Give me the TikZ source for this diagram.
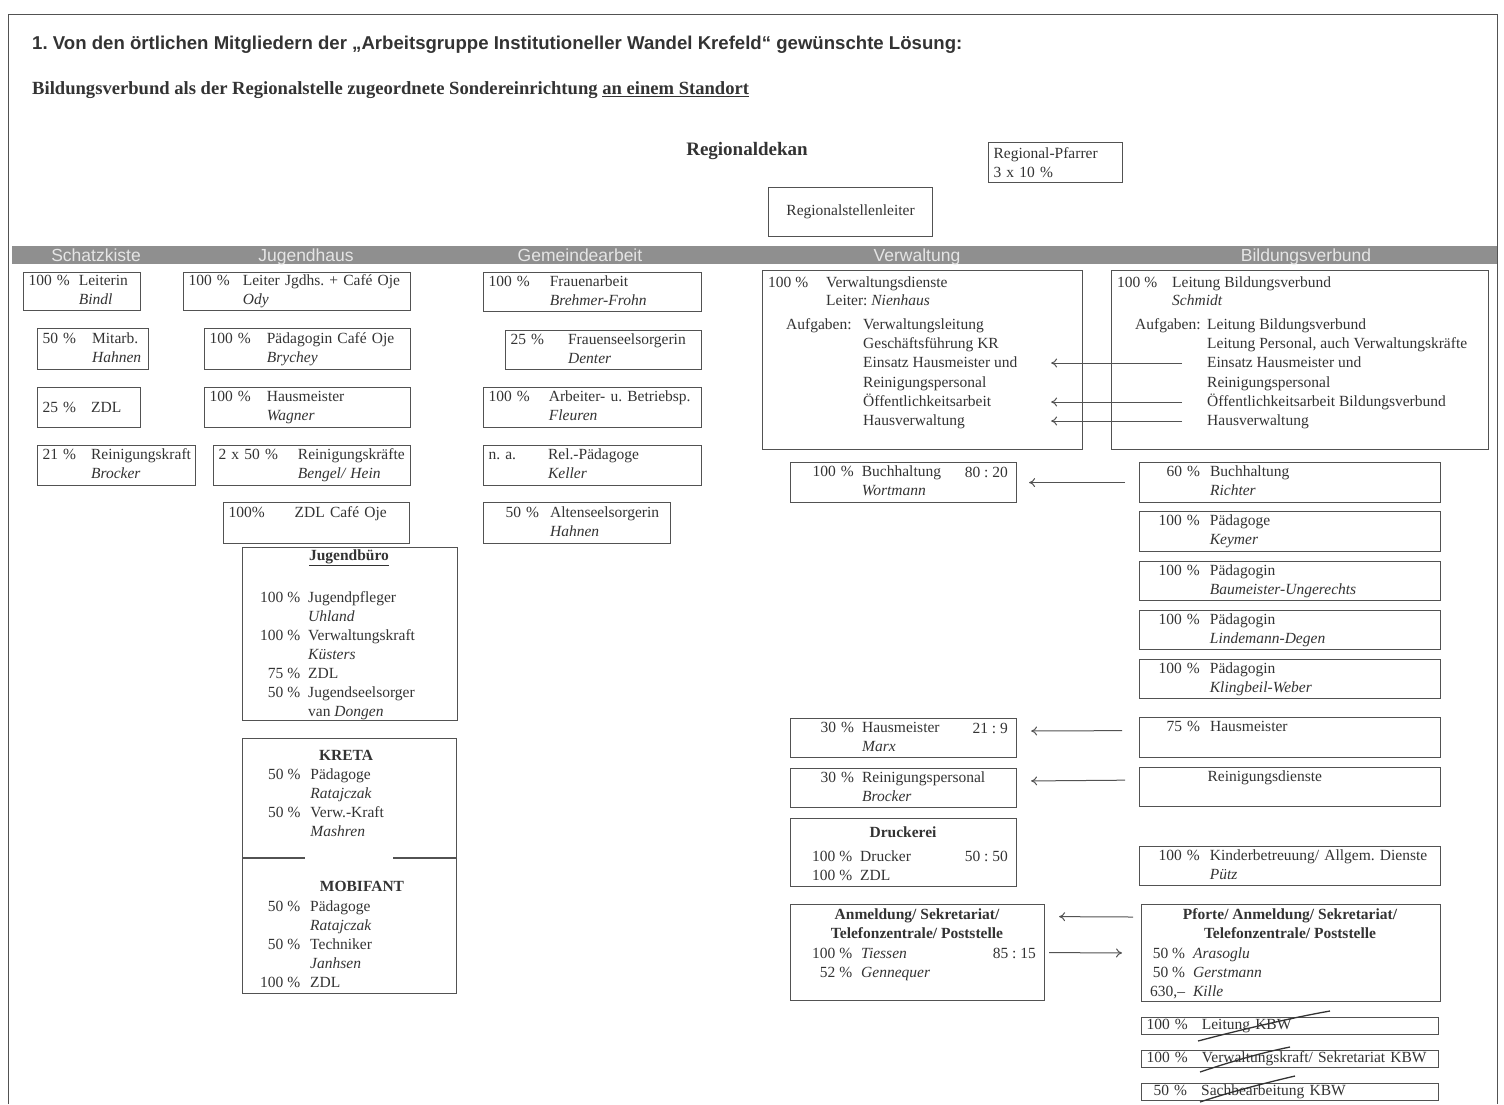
\documentclass[tikz,border=0pt]{standalone}
\usepackage{fontspec}
\setmainfont{Liberation Serif}
\setsansfont{Liberation Sans}
\usetikzlibrary{arrows.meta}
\frenchspacing

\definecolor{tinte}{gray}{0.2}
\definecolor{linie}{gray}{0.32}
\definecolor{balkengrau}{gray}{0.56}
\definecolor{reitertext}{gray}{0.9}

\newcommand{\schrift}{\fontsize{15.5}{19}\selectfont}
\newcommand{\titelschrift}{\sffamily\bfseries\fontsize{18.6}{22}\selectfont}
\newcommand{\zweitschrift}{\bfseries\fontsize{18.6}{22}\selectfont}
\newcommand{\reiterschrift}{\sffamily\fontsize{17.5}{18}\selectfont}
% Prozent | Aufgabe / Name
\newcommand{\posten}[4][16pt]{\begin{tabular}[t]{@{}r@{\hspace{#1}}l@{}}#2 & #3\\ & \textit{#4}\end{tabular}}

\begin{document}
\begin{tikzpicture}[x=1pt, y=-1pt, color=tinte, >={To[length=6pt, width=9pt]},
    stelle/.style={draw=linie, line width=1.1pt, rectangle, anchor=north west, inner xsep=5pt, inner ysep=0pt, align=left, font=\schrift},
    rahmen/.style={draw=linie, line width=1.1pt, rectangle, anchor=north west, inner sep=0pt, font=\schrift},
    zeile/.style={anchor=base west, inner sep=0pt, text height=11pt, text depth=3pt, font=\schrift},
    block/.style={anchor=base west, inner sep=0pt, font=\schrift},
    kopf/.style={inner sep=0pt, align=center, font=\schrift\bfseries},
    reiter/.style={anchor=base, inner sep=0pt, text=reitertext, font=\reiterschrift},
    pfeil/.style={->, draw=linie, line width=1pt}]
  \useasboundingbox (0,0) rectangle (1504,1104);
  \draw[linie, line width=1pt] (8,1104) -- (8,14) -- (1497,14) -- (1497,1104);

  % Kopf
  \node[anchor=west, inner sep=0pt, font=\titelschrift] (titel) at (32,45)
    {1. Von den örtlichen Mitgliedern der „Arbeitsgruppe Institutioneller Wandel Krefeld“ gewünschte Lösung:};
  \node[anchor=west, inner sep=0pt, font=\zweitschrift] (untertitel) at (32,90)
    {Bildungsverbund als der Regionalstelle zugeordnete Sondereinrichtung \underline{an einem Standort}};
  \node[inner sep=0pt, font=\bfseries\fontsize{19}{21}\selectfont] (dekan) at (747,151) {Regionaldekan};
  \node[stelle, text width=124pt, minimum height=40pt] (pfarrer) at (988,142) {Regional-Pfarrer\\3 x 10 \%};
  \node[rahmen, minimum width=164pt, minimum height=49pt] (leiter) at (768,187) {Regionalstellenleiter};

  % Balken
  \fill[balkengrau] (12,246) rectangle (1497,264);
  \node[reiter] (rSchatz) at (96,261) {Schatzkiste};
  \node[reiter] (rJugend) at (306,261) {Jugendhaus};
  \node[reiter] (rGemeinde) at (580,261) {Gemeindearbeit};
  \node[reiter] (rVerw) at (917,261) {Verwaltung};
  \node[reiter] (rBild) at (1306,261) {Bildungsverbund};

  % Schatzkiste
  \node[stelle, text width=107pt, minimum height=38pt] (schatzA) at (23,272) {\posten[9pt]{100 \%}{Leiterin}{Bindl}};
  \node[stelle, text width=101pt, minimum height=41pt] (schatzB) at (37,328) {\posten{50 \%}{Mitarb.}{Hahnen}};
  \node[stelle, text width=93pt, minimum height=40pt] (schatzC) at (37,387) {25 \%\hspace{15pt}ZDL};
  \node[stelle, text width=148pt, minimum height=40pt] (schatzD) at (37,445) {\posten[15pt]{21 \%}{Reinigungskraft}{Brocker}};

  % Jugendhaus
  \node[stelle, text width=217pt, minimum height=38pt] (jugendA) at (183,272) {\posten[13pt]{100 \%}{Leiter Jgdhs. + Café Oje}{Ody}};
  \node[stelle, text width=196pt, minimum height=41pt] (jugendB) at (204,328) {\posten{100 \%}{Pädagogin Café Oje}{Brychey}};
  \node[stelle, text width=196pt, minimum height=40pt] (jugendC) at (204,387) {\posten{100 \%}{Hausmeister}{Wagner}};
  \node[stelle, text width=187pt, minimum height=40pt] (jugendD) at (213,445) {\posten[20pt]{2 x 50 \%}{Reinigungskräfte}{Bengel/ Hein}};
  \node[stelle, text width=176pt, minimum height=41pt] (jugendE) at (223,502) {\posten[30pt]{100\%}{ZDL Café Oje}{}};

  \node[rahmen, minimum width=215pt, minimum height=173pt] (jbuero) at (242,547) {};
  \node[kopf] (jbueroKopf) at (349,558) {\underline{Jugendbüro}};
  \node[block] (jbueroText) at (260,602) {\begin{tabular}[t]{@{}r@{\hspace{8pt}}l@{}}
    100 \% & Jugendpfleger\\ & \textit{Uhland}\\ 100 \% & Verwaltungskraft\\ & \textit{Küsters}\\
    75 \% & ZDL\\ 50 \% & Jugendseelsorger\\ & van \textit{Dongen}\end{tabular}};

  \node[rahmen, minimum width=214pt, minimum height=255pt] (kreta) at (242,738) {};
  \draw[linie, line width=1.1pt] (kreta.west |- 0,858) -- ++(63,0) (kreta.east |- 0,858) -- ++(-64,0);
  \node[kopf] (kretaKopf) at (346,755) {KRETA};
  \node[block] (kretaText) at (268,779) {\begin{tabular}[t]{@{}r@{\hspace{10pt}}l@{}}
    50 \% & Pädagoge\\ & \textit{Ratajczak}\\ 50 \% & Verw.-Kraft\\ & \textit{Mashren}\end{tabular}};
  \node[kopf] (mobiKopf) at (362,886) {MOBIFANT};
  \node[block] (mobiText) at (260,911) {\begin{tabular}[t]{@{}r@{\hspace{10pt}}l@{}}
    50 \% & Pädagoge\\ & \textit{Ratajczak}\\ 50 \% & Techniker\\ & \textit{Janhsen}\\ 100 \% & ZDL\end{tabular}};

  % Gemeindearbeit
  \node[stelle, text width=208pt, minimum height=39pt] (gemA) at (483,272) {\posten[20pt]{100 \%}{Frauenarbeit}{Brehmer-Frohn}};
  \node[stelle, text width=186pt, minimum height=39pt] (gemB) at (505,330) {\posten[24pt]{25 \%}{Frauenseelsorgerin}{Denter}};
  \node[stelle, text width=208pt, minimum height=40pt] (gemC) at (483,387) {\posten[19pt]{100 \%}{Arbeiter- u. Betriebsp.}{Fleuren}};
  \node[stelle, text width=208pt, minimum height=40pt] (gemD) at (483,445) {\posten[32pt]{n. a.}{Rel.-Pädagoge}{Keller}};
  \node[stelle, text width=177pt, minimum height=41pt] (gemE) at (483,502) {\hspace*{17pt}\posten[11pt]{50 \%}{Altenseelsorgerin}{Hahnen}};

  % Verwaltung
  \node[rahmen, minimum width=320pt, minimum height=179pt] (verw) at (762,270) {};
  \node[zeile] (vProz) at (768,287) {100 \%};
  \node[zeile] (vDienst) at (826,287) {Verwaltungsdienste};
  \node[zeile] (vLeiter) at (826,305) {Leiter: \textit{Nienhaus}};
  \node[zeile] (vAufg) at (786,329) {Aufgaben:};
  \node[zeile] (vLeitung) at (863,329) {Verwaltungsleitung};
  \node[zeile] (vGf) at (863,348) {Geschäftsführung KR};
  \node[zeile] (vEinsatz) at (863,367) {Einsatz Hausmeister und};
  \node[zeile] (vReinig) at (863,387) {Reinigungspersonal};
  \node[zeile] (vOeff) at (863,406) {Öffentlichkeitsarbeit};
  \node[zeile] (vHausv) at (863,425) {Hausverwaltung};

  \node[stelle, text width=216pt, minimum height=40pt] (vBuch) at (790,462) {\hspace*{17pt}\posten[8pt]{100 \%}{Buchhaltung}{Wortmann}};
  \node[block, anchor=base east] (vBuchQ) at (1008,477) {80 : 20};
  \node[stelle, text width=216pt, minimum height=39pt] (vHaus) at (790,718) {\hspace*{25pt}\posten[8pt]{30 \%}{Hausmeister}{Marx}};
  \node[block, anchor=base east] (vHausQ) at (1008,733) {21 : 9};
  \node[stelle, text width=216pt, minimum height=39pt] (vRein) at (790,768) {\hspace*{25pt}\posten[8pt]{30 \%}{Reinigungspersonal}{Brocker}};
  \node[rahmen, minimum width=226pt, minimum height=68pt] (vDruck) at (790,818) {};
  \node[kopf] (druckKopf) at (903,832) {Druckerei};
  \node[block] (druckText) at (812,861) {\begin{tabular}[t]{@{}l@{\hspace{8pt}}l@{}}100 \% & Drucker\\ 100 \% & ZDL\end{tabular}};
  \node[block, anchor=base east] (druckQ) at (1008,861) {50 : 50};
  \node[rahmen, minimum width=254pt, minimum height=96pt] (vAnm) at (790,904) {};
  \node[kopf] (anmKopfV) at (917,924) {Anmeldung/ Sekretariat/\\Telefonzentrale/ Poststelle};
  \node[block] (anmTextV) at (812,958) {\begin{tabular}[t]{@{}r@{\hspace{9pt}}l@{}}100 \% & \textit{Tiessen}\\ 52 \% & \textit{Gennequer}\end{tabular}};
  \node[block, anchor=base east] (anmQ) at (1036,958) {85 : 15};

  % Bildungsverbund
  \node[rahmen, minimum width=377pt, minimum height=179pt] (bild) at (1111,270) {};
  \node[zeile] (bProz) at (1117,287) {100 \%};
  \node[zeile] (bLeitung) at (1172,287) {Leitung Bildungsverbund};
  \node[zeile] (bName) at (1172,305) {\textit{Schmidt}};
  \node[zeile] (bAufg) at (1135,329) {Aufgaben:};
  \node[zeile] (bLeitA) at (1207,329) {Leitung Bildungsverbund};
  \node[zeile] (bLeitB) at (1207,348) {Leitung Personal, auch Verwaltungskräfte};
  \node[zeile] (bEinsatz) at (1207,367) {Einsatz Hausmeister und};
  \node[zeile] (bReinig) at (1207,387) {Reinigungspersonal};
  \node[zeile] (bOeff) at (1207,406) {Öffentlichkeitsarbeit Bildungsverbund};
  \node[zeile] (bHausv) at (1207,425) {Hausverwaltung};

  \node[stelle, text width=291pt, minimum height=40pt] (bBuch) at (1139,462) {\hspace*{22pt}\posten[10pt]{60 \%}{Buchhaltung}{Richter}};
  \node[stelle, text width=291pt, minimum height=40pt] (bKeymer) at (1139,511) {\hspace*{14pt}\posten[10pt]{100 \%}{Pädagoge}{Keymer}};
  \node[stelle, text width=291pt, minimum height=39pt] (bBaum) at (1139,561) {\hspace*{14pt}\posten[10pt]{100 \%}{Pädagogin}{Baumeister-Ungerechts}};
  \node[stelle, text width=291pt, minimum height=39pt] (bLinde) at (1139,610) {\hspace*{14pt}\posten[10pt]{100 \%}{Pädagogin}{Lindemann-Degen}};
  \node[stelle, text width=291pt, minimum height=39pt] (bKling) at (1139,659) {\hspace*{14pt}\posten[10pt]{100 \%}{Pädagogin}{Klingbeil-Weber}};
  \node[stelle, text width=291pt, minimum height=40pt] (bHaus) at (1139,717) {\hspace*{22pt}\posten[10pt]{75 \%}{Hausmeister}{}};
  \node[stelle, text width=291pt, minimum height=39pt] (bRein) at (1139,767) {\hspace*{63pt}\posten[0pt]{}{Reinigungsdienste}{}};
  \node[stelle, text width=291pt, minimum height=39pt] (bKind) at (1139,846) {\hspace*{14pt}\posten[10pt]{100 \%}{Kinderbetreuung/ Allgem. Dienste}{Pütz}};
  \node[rahmen, minimum width=299pt, minimum height=97pt] (bAnm) at (1141,904) {};
  \node[kopf] (anmKopfB) at (1290,924) {Pforte/ Anmeldung/ Sekretariat/\\Telefonzentrale/ Poststelle};
  \node[block] (anmTextB) at (1150,958) {\begin{tabular}[t]{@{}r@{\hspace{8pt}}l@{}}50 \% & \textit{Arasoglu}\\ 50 \% & \textit{Gerstmann}\\ 630,– & \textit{Kille}\end{tabular}};

  % KBW (gestrichen)
  \node[stelle, text width=287pt, minimum height=17pt] (kbwA) at (1141,1017) {100 \%\hspace{14pt}Leitung KBW};
  \node[stelle, text width=287pt, minimum height=17pt] (kbwB) at (1141,1050) {100 \%\hspace{14pt}Verwaltungskraft/ Sekretariat KBW};
  \node[stelle, text width=287pt, minimum height=17pt] (kbwC) at (1141,1083) {\hspace*{7pt}50 \%\hspace{14pt}Sachbearbeitung KBW};
  \draw[line width=1.3pt] (1198,1041) .. controls (1240,1030) and (1290,1018) .. (1330,1011);
  \draw[line width=1.3pt] (1200,1072) .. controls (1230,1062) and (1260,1053) .. (1290,1047);
  \draw[line width=1.3pt] (1200,1102) .. controls (1230,1092) and (1265,1083) .. (1295,1076);

  % Zuordnungen
  \draw[pfeil, shorten <=25pt, shorten >=-32pt] (bEinsatz.west) -- (bEinsatz.west -| verw.east);
  \draw[pfeil, shorten <=25pt, shorten >=-32pt] (bOeff.west) -- (bOeff.west -| verw.east);
  \draw[pfeil, shorten <=25pt, shorten >=-32pt] (bHausv.west) -- (bHausv.west -| verw.east);
  \draw[pfeil, shorten <=14pt, shorten >=12pt] (bBuch.west) -- (vBuch.east);
  \draw[pfeil, shorten <=17pt, shorten >=14pt] ([yshift=7pt]bHaus.west) -- ([yshift=7pt]vHaus.east);
  \draw[pfeil, shorten <=14pt, shorten >=14pt] ([yshift=7pt]bRein.west) -- ([yshift=7pt]vRein.east);
  \draw[pfeil, shorten <=8pt, shorten >=14pt] ([yshift=36pt]bAnm.west) -- ([yshift=36pt]vAnm.east);
  \draw[pfeil, shorten <=4pt, shorten >=19pt] (vAnm.east) -- (bAnm.west);
\end{tikzpicture}
\end{document}
